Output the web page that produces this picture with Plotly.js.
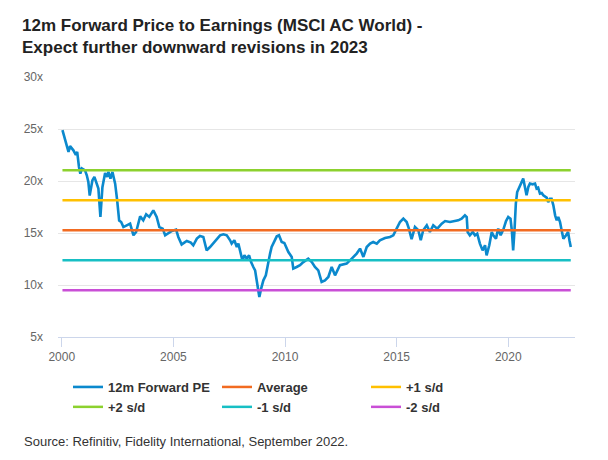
<!DOCTYPE html>
<html>
<head>
<meta charset="utf-8">
<script src="https://cdn.plot.ly/plotly-3.0.1.min.js"></script>
<style>html,body{margin:0;padding:0;background:#fff}#chart{width:608px;height:460px}</style>
</head>
<body>
<div id="chart"></div>
<script>
// Decimal years and 12m forward P/E readings
var years = [2000.03,2000.15,2000.3,2000.37,2000.52,2000.63,2000.69,2000.77,2000.83,2000.9,
2001.04,2001.12,2001.19,2001.25,2001.37,2001.46,2001.57,2001.64,2001.73,2001.82,2001.94,
2002.03,2002.09,2002.18,2002.27,2002.39,2002.48,2002.57,2002.66,2002.76,2002.91,
2003.06,2003.21,2003.33,2003.51,2003.65,2003.78,2003.92,2004.1,2004.25,2004.37,2004.52,2004.63,2004.77,2004.93,
2005.12,2005.22,2005.37,2005.6,2005.78,2005.89,2006.05,2006.19,2006.34,2006.49,2006.64,2006.79,2006.94,
2007.09,2007.24,2007.39,2007.54,2007.61,2007.73,2007.84,2007.91,2007.98,2008.09,2008.18,2008.28,2008.39,2008.48,
2008.58,2008.66,2008.73,2008.8,2008.85,2008.93,2009.03,2009.14,2009.23,2009.33,2009.4,2009.52,2009.63,2009.73,2009.85,2009.97,
2010.05,2010.15,2010.3,2010.37,2010.52,2010.67,2010.82,2011.04,2011.2,2011.34,2011.49,2011.64,2011.79,2011.94,
2012.09,2012.24,2012.46,2012.76,2012.99,2013.21,2013.36,2013.51,2013.66,2013.81,2013.95,2014.11,2014.25,2014.48,2014.7,2014.85,
2015.0,2015.15,2015.3,2015.45,2015.55,2015.67,2015.82,2015.97,2016.08,2016.19,2016.35,2016.49,2016.64,2016.82,
2017.02,2017.17,2017.39,2017.61,2017.76,2017.91,2018.06,2018.14,2018.18,2018.28,2018.41,2018.51,2018.61,2018.73,2018.85,2018.96,
2019.03,2019.15,2019.26,2019.33,2019.45,2019.55,2019.66,2019.78,2019.9,2020.0,2020.1,2020.16,2020.22,2020.28,2020.34,2020.4,
2020.49,2020.6,2020.67,2020.76,2020.82,2020.9,2020.97,2021.09,2021.2,2021.27,2021.34,2021.42,2021.5,2021.57,2021.65,2021.72,
2021.79,2021.87,2021.94,2022.02,2022.1,2022.17,2022.24,2022.32,2022.39,2022.47,2022.59,2022.68,2022.74,2022.8];
var pe = [24.9,23.9,22.8,23.35,22.95,22.5,22.8,21.35,20.7,21.2,
21.03,20.55,19.9,18.6,20.05,20.4,19.6,19.27,16.55,19.4,20.77,
20.4,20.87,20.23,20.87,19.75,18.15,16.2,16.05,15.57,15.74,
15.9,14.78,15.1,16.6,16.22,16.8,16.55,17.18,16.55,15.57,15.42,14.78,15.0,15.2,
15.33,14.62,13.9,14.23,14.08,13.82,14.46,14.71,14.62,13.33,13.65,14.04,14.37,
14.78,14.88,14.78,14.3,13.98,14.3,13.65,13.98,13.33,12.37,12.85,12.54,12.85,12.2,
11.73,11.41,10.45,9.56,8.85,9.65,10.45,10.93,12.06,13.02,13.65,14.13,14.68,14.78,14.13,14.04,
13.65,13.17,12.7,11.58,11.73,11.9,12.2,12.54,12.2,11.73,11.41,10.3,10.45,10.77,
11.73,10.93,11.9,12.06,12.54,13.02,13.5,12.7,13.65,13.98,14.13,13.98,14.3,14.52,14.62,14.78,
15.42,16.06,16.38,16.06,15.42,14.4,15.57,15.26,14.3,15.26,15.74,15.1,15.74,15.42,
15.9,16.15,16.06,16.12,16.22,16.38,16.7,16.54,15.1,14.78,15.1,14.78,14.94,13.98,13.33,13.82,
12.85,13.82,15.1,14.78,14.46,15.42,14.78,15.33,16.15,16.54,16.38,15.26,13.33,15.26,17.83,18.94,
19.42,19.9,20.23,19.27,18.63,19.42,19.75,19.68,19.75,19.27,19.36,18.79,18.85,18.63,18.46,18.4,
17.98,18.3,18.3,17.66,16.7,16.22,16.54,16.06,15.26,14.46,14.78,15.1,14.3,13.65];

var bandNames = ["Average","+1 s/d","+2 s/d","-1 s/d","-2 s/d"];
var bandLevels = [15.26,18.15,21.03,12.38,9.49];
var bandColors = ["#f26b21","#ffc000","#8cd12e","#17bfc4","#c94fd6"];
var peName = "12m Forward PE";
var peColor = "#0b89cd";
var xTicks = [2000,2005,2010,2015,2020];
var yTicks = [5,10,15,20,25,30];
var yTickText = ["5x","10x","15x","20x","25x","30x"];

var traces = [{
  x: years, y: pe, name: peName, type: "scatter", mode: "lines",
  line: {color: peColor, width: 2.6}, hoverinfo: "skip"
}];
for (var i = 0; i < bandNames.length; i++) {
  traces.push({
    x: [years[0], years[years.length-1]],
    y: [bandLevels[i], bandLevels[i]],
    name: bandNames[i], type: "scatter", mode: "lines",
    line: {color: bandColors[i], width: 2.5}, hoverinfo: "skip"
  });
}
var layout = {
  width: 608, height: 460,
  margin: {l: 58, r: 33, t: 77, b: 123},
  paper_bgcolor: "#fff", plot_bgcolor: "#fff",
  font: {family: "'Liberation Sans', Arial, sans-serif", color: "#666", size: 12},
  title: {
    text: "12m Forward Price to Earnings (MSCI AC World) -<br>Expect further downward revisions in 2023",
    x: 22/608, xanchor: "left", xref: "container",
    y: 1 - 31/460, yanchor: "top", yref: "container",
    font: {family: "'Liberation Sans', Arial, sans-serif", size: 17, color: "#222", weight: "bold"}
  },
  xaxis: {
    range: [1999.83, 2022.99], tickvals: xTicks, ticktext: xTicks.map(String),
    showgrid: false, zeroline: false, showline: true, linecolor: "#ccd6eb", linewidth: 1,
    ticks: "outside", ticklen: 9, tickcolor: "#ccd6eb", tickwidth: 1,
    tickfont: {size: 12, color: "#666"}, fixedrange: true
  },
  yaxis: {
    range: [5, 30], tickvals: yTicks, ticktext: yTickText,
    showgrid: true, gridcolor: "#e6e6e6", gridwidth: 1, zeroline: false, showline: false,
    ticks: "", ticklabelstandoff: 14,
    tickfont: {size: 12, color: "#666"}, fixedrange: true
  },
  showlegend: true,
  legend: {
    orientation: "h", xref: "container", yref: "container",
    x: 68/608, xanchor: "left", y: 1 - 372/460, yanchor: "top",
    entrywidth: 104, itemwidth: 30, tracegroupgap: 0,
    font: {size: 13, color: "#333", weight: "bold"},
    bgcolor: "rgba(0,0,0,0)"
  },
  annotations: [{
    text: "Source: Refinitiv, Fidelity International, September 2022.",
    xref: "paper", yref: "paper", x: (22-58)/517, y: (337-441)/260,
    xanchor: "left", yanchor: "middle", showarrow: false,
    font: {size: 13, color: "#333"}
  }]
};
Plotly.newPlot("chart", traces, layout, {staticPlot: true, displayModeBar: false});
</script>
</body>
</html>
